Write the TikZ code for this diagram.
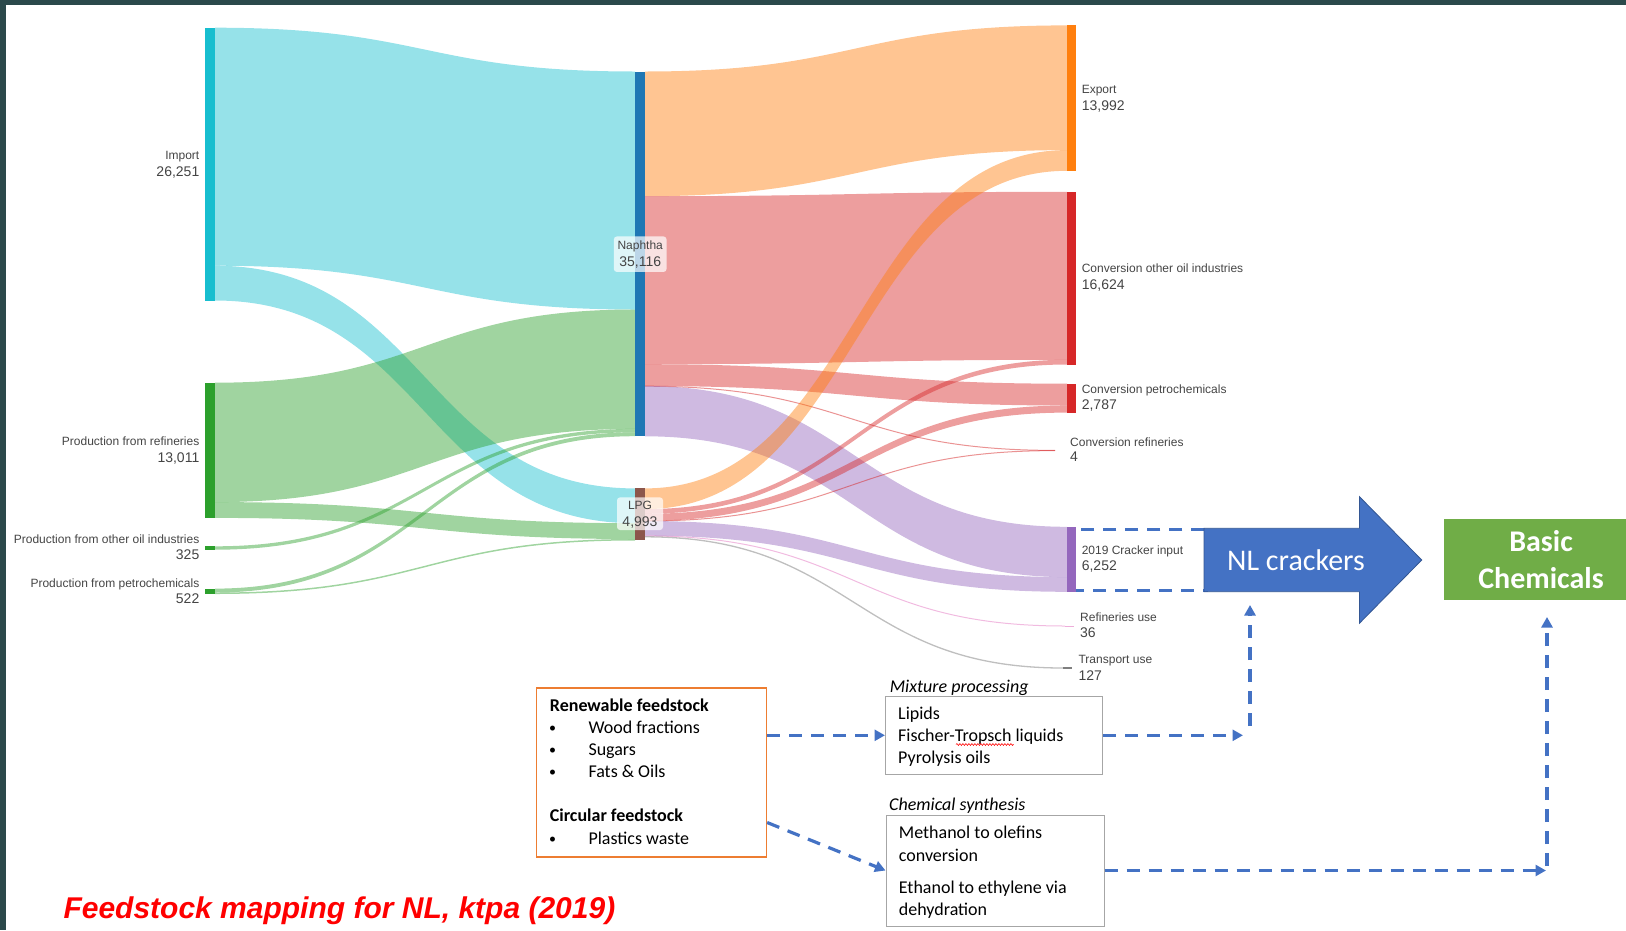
\documentclass[tikz,border=0pt]{standalone}
\usepackage{fontspec}
\setmainfont{Liberation Sans}
\newfontfamily\calib{Carlito}
\usetikzlibrary{arrows.meta,calc,decorations.pathmorphing}

\definecolor{impc}{HTML}{17BECF}
\definecolor{refc}{HTML}{2CA02C}
\definecolor{naphc}{HTML}{1F77B4}
\definecolor{lpgc}{HTML}{8C564B}
\definecolor{expc}{HTML}{FF7F0E}
\definecolor{convc}{HTML}{D62728}
\definecolor{crackc}{HTML}{9467BD}
\definecolor{ruc}{HTML}{E377C2}
\definecolor{tuc}{HTML}{7F7F7F}
\definecolor{labgray}{HTML}{444444}
\definecolor{offblue}{HTML}{4472C4}
\definecolor{offgreen}{HTML}{70AD47}
\definecolor{offorange}{HTML}{ED7D31}
\definecolor{boxgray}{HTML}{A6A6A6}
\definecolor{framec}{RGB}{43,73,75}

% sankey band: colour, x0, top0, bottom0, x1, top1, bottom1
\newcommand{\sklink}[7]{%
  \fill[#1, fill opacity=0.45] (#2,#3) .. controls ({(#2+#5)/2},#3) and ({(#2+#5)/2},#6) .. (#5,#6)
    -- (#5,#7) .. controls ({(#2+#5)/2},#7) and ({(#2+#5)/2},#4) .. (#2,#4) -- cycle;}
% very small flow: colour, width, x0, y0, x1, y1
\newcommand{\skthin}[6]{%
  \draw[#1, line width=#2, draw opacity=0.5] (#3,#4) .. controls ({(#3+#5)/2},#4) and ({(#3+#5)/2},#6) .. (#5,#6);}

\tikzset{
  nm/.style={font=\fontsize{12}{14}\selectfont, text=labgray, inner sep=0pt},
  val/.style={font=\fontsize{14}{16}\selectfont, text=labgray, inner sep=0pt},
  btxt/.style={font=\calib\fontsize{18}{22}\selectfont, inner sep=0pt, anchor=base west},
  bul/.style={font=\calib\fontsize{14}{22}\selectfont, inner sep=0pt, anchor=base west},
  greybox/.style={draw=boxgray, line width=1pt, inner sep=0pt},
  dasharrow/.style={offblue, line width=3.2pt, dash pattern=on 13pt off 9pt,
    -{Triangle[length=10.5pt,width=11pt]}},
}

\begin{document}
\begin{tikzpicture}[x=1pt,y=-1pt]
    \useasboundingbox (0,0) rectangle (1626,930);
    % Frame
    \fill[framec] (0,0) rectangle (6,930);
    \fill[framec] (0,0) rectangle (1626,4.7);

    % Flows into Naphtha and LPG
    \sklink{impc}{215}{27.7}{265.7}{635}{71.5}{309.5}
    \sklink{impc}{215}{265.7}{300.5}{635}{488.4}{523.2}
    \sklink{refc}{215}{382.7}{502.1}{635}{309.5}{428.9}
    \sklink{refc}{215}{502.1}{517.9}{635}{523.2}{539.0}
    \sklink{refc}{215}{546.3}{549.7}{635}{428.9}{432.3}
    \sklink{refc}{215}{588.6}{592.5}{635}{432.3}{436.2}
    \sklink{refc}{215}{592.5}{594.0}{635}{539.0}{540.5}

    % Flows out of Naphtha
    \sklink{expc}{645}{71.5}{196.2}{1067}{25.4}{150.1}
    \sklink{convc}{645}{196.2}{364.2}{1067}{191.8}{359.8}
    \sklink{convc}{645}{364.2}{386.0}{1067}{383.7}{405.5}
    \skthin{convc}{1pt}{645}{386.2}{1055}{450.4}
    \sklink{crackc}{645}{386.0}{436.3}{1067}{526.8}{577.1}

    % Flows out of LPG
    \sklink{expc}{645}{488.4}{509.1}{1067}{150.1}{170.8}
    \sklink{convc}{645}{509.1}{513.8}{1067}{359.8}{364.5}
    \sklink{convc}{645}{513.8}{520.9}{1067}{405.5}{412.6}
    \skthin{convc}{1pt}{645}{521}{1055}{450.6}
    \sklink{crackc}{645}{521.0}{535.7}{1067}{577.1}{591.8}
    \skthin{ruc}{1pt}{645}{535.9}{1065}{626}
    \skthin{tuc}{1.3pt}{645}{536.8}{1063}{668}

    % Cracker input frame
    \node[draw=offblue, line width=3.2pt, dash pattern=on 13pt off 9pt, minimum width=135pt,
      minimum height=61.4pt, inner sep=0pt] (crackbox) at (1138.5,560) {};

    % Bars
    \fill[impc] (205,27.7) rectangle (215,300.5);
    \fill[refc] (205,382.7) rectangle (215,517.9);
    \fill[refc] (205,546.3) rectangle (215,549.7);
    \fill[refc] (205,588.6) rectangle (215,594);
    \fill[naphc] (635,71.5) rectangle (645,436.4);
    \fill[lpgc] (635,488.4) rectangle (645,540.3);
    \fill[expc] (1067,25.4) rectangle (1076,171);
    \fill[convc] (1067,191.8) rectangle (1076,364.5);
    \fill[convc] (1067,383.7) rectangle (1076,412.7);
    \fill[crackc] (1067,526.8) rectangle (1076,591.8);
    \fill[ruc!60] (1065,625.7) rectangle (1074,626.3);
    \fill[tuc] (1063,667.4) rectangle (1072,668.7);

    % Left labels
    \node[nm, anchor=base east] (limp) at (199.5,159) {Import};
    \node[val, anchor=base east] (vimp) at (199.5,176) {26,251};
    \node[nm, anchor=base east] (lref) at (199.5,445.7) {Production from refineries};
    \node[val, anchor=base east] (vref) at (199.5,462.5) {13,011};
    \node[nm, anchor=base east] (loth) at (199.5,543.7) {Production from other oil industries};
    \node[val, anchor=base east] (voth) at (199.5,559.7) {325};
    \node[nm, anchor=base east] (lpet) at (199.5,587) {Production from petrochemicals};
    \node[val, anchor=base east] (vpet) at (199.5,603) {522};

    % Middle labels
    \node[fill=white, fill opacity=0.7, rounded corners=3pt, minimum width=52.7pt,
      minimum height=35.5pt, inner sep=0pt] (naphbg) at (640.2,254.2) {};
    \node[nm, anchor=base] (lnaph) at (640.2,249.5) {Naphtha};
    \node[val, anchor=base] (vnaph) at (640.2,266) {35,116};
    \node[fill=white, fill opacity=0.7, rounded corners=3pt, minimum width=46pt,
      minimum height=32.6pt, inner sep=0pt] (lpgbg) at (640,513.7) {};
    \node[nm, anchor=base] (llpg) at (640,509) {LPG};
    \node[val, anchor=base] (vlpg) at (640,526) {4,993};

    % Right labels
    \node[nm, anchor=base west] (lexp) at (1081.6,93.3) {Export};
    \node[val, anchor=base west] (vexp) at (1081.6,110) {13,992};
    \node[nm, anchor=base west] (lcoi) at (1081.6,272.7) {Conversion other oil industries};
    \node[val, anchor=base west] (vcoi) at (1081.6,289.5) {16,624};
    \node[nm, anchor=base west] (lcp) at (1081.6,393.3) {Conversion petrochemicals};
    \node[val, anchor=base west] (vcp) at (1081.6,409.5) {2,787};
    \node[nm, anchor=base west] (lcr) at (1070,446) {Conversion refineries};
    \node[val, anchor=base west] (vcr) at (1070,461) {4};
    \node[nm, anchor=base west] (lcrack) at (1081.6,554.4) {2019 Cracker input};
    \node[val, anchor=base west] (vcrack) at (1081.6,570.6) {6,252};
    \node[nm, anchor=base west] (lru) at (1080,621.4) {Refineries use};
    \node[val, anchor=base west] (vru) at (1080,637) {36};
    \node[nm, anchor=base west] (ltu) at (1078.4,663.8) {Transport use};
    \node[val, anchor=base west] (vtu) at (1078.4,680) {127};

    % NL crackers arrow
    \filldraw[fill=offblue, draw=offblue!75!black, line width=0.8pt]
      (1204,528.3) -- (1359.5,528.3) -- (1359.5,496.7) -- (1421.7,560)
      -- (1359.5,623.2) -- (1359.5,591.7) -- (1204,591.7) -- cycle;
    \node[anchor=base, text=white, font=\calib\fontsize{30}{36}\selectfont, inner sep=0pt]
      (nlcr) at (1296,570) {NL crackers};

    % Basic chemicals
    \node[fill=offgreen, minimum width=195pt, minimum height=81pt, inner sep=0pt,
      text=white, align=center, font=\calib\bfseries\fontsize{30}{36.6}\selectfont]
      (basic) at (1541,559.3) {Basic\\Chemicals};

    % Feedstock boxes
    \node[draw=offorange, line width=1.3pt, minimum width=230pt, minimum height=169pt,
      inner sep=0pt] (renew) at (651.5,772.5) {};
    \node[btxt, font=\calib\bfseries\fontsize{18}{22}\selectfont] (rentitle) at (549.7,711) {Renewable feedstock};
    \foreach \t [count=\i] in {Wood fractions, Sugars, Fats \& Oils} {
        \node[bul] (bul\i) at (549,{710+22*\i}) {\textbullet};
        \node[btxt] (ren\i) at (588.3,{711+22*\i}) {\t};
    }
    \node[btxt, font=\calib\bfseries\fontsize{18}{22}\selectfont] (circtitle) at (549.7,821) {Circular feedstock};
    \node[bul] (bul4) at (549,843) {\textbullet};
    \node[btxt] (circ1) at (588.3,844) {Plastics waste};

    \node[btxt, font=\calib\itshape\fontsize{18}{22}\selectfont] (mixtitle) at (889.6,692.5) {Mixture processing};
    \node[greybox, minimum width=217pt, minimum height=78.6pt] (mix) at (994,735.3) {};
    \node[btxt] (mix1) at (898,719) {Lipids};
    \node[btxt] (mix2) at (898,741) {Fischer-Tropsch liquids};
    \node[btxt] (mix3) at (898,763) {Pyrolysis oils};
    \draw[red, line width=0.6pt, decorate, decoration={snake, amplitude=0.9pt, segment length=3pt}]
      (956,744.5) -- (1013.5,744.5);

    \node[btxt, font=\calib\itshape\fontsize{18}{22}\selectfont] (chemtitle) at (889,810.6) {Chemical synthesis};
    \node[greybox, minimum width=218pt, minimum height=111pt] (chem) at (995,870.5) {};
    \node[btxt] (chem1) at (898.7,838.5) {Methanol to olefins};
    \node[btxt] (chem2) at (898.7,861) {conversion};
    \node[btxt] (chem3) at (898.7,893.5) {Ethanol to ethylene via};
    \node[btxt] (chem4) at (898.7,915.5) {dehydration};

    % Dashed connectors
    \coordinate (mixend) at (1243,735.3);
    \coordinate (upstart) at (1250,726);
    \coordinate (nlin) at (1250,605);
    \coordinate (chemend) at (1546,870.5);
    \coordinate (basicstart) at (1547,866);
    \coordinate (basicin) at (1547,617);
    \draw[dasharrow] (renew.east |- mix.west) -- (mix.west);
    \draw[dasharrow] ($(renew.east)+(0,50)$) -- (chem.west);
    \draw[dasharrow] (mix.east) -- (mixend);
    \draw[dasharrow] (upstart) -- (nlin);
    \draw[dasharrow] (chem.east) -- (chemend);
    \draw[dasharrow] (basicstart) -- (basicin);

    % Title
    \node[anchor=base west, text=red, font=\bfseries\itshape\fontsize{30}{36}\selectfont, inner sep=0pt]
      (title) at (63.3,918.8) {Feedstock mapping for NL, ktpa (2019)};
\end{tikzpicture}
\end{document}
